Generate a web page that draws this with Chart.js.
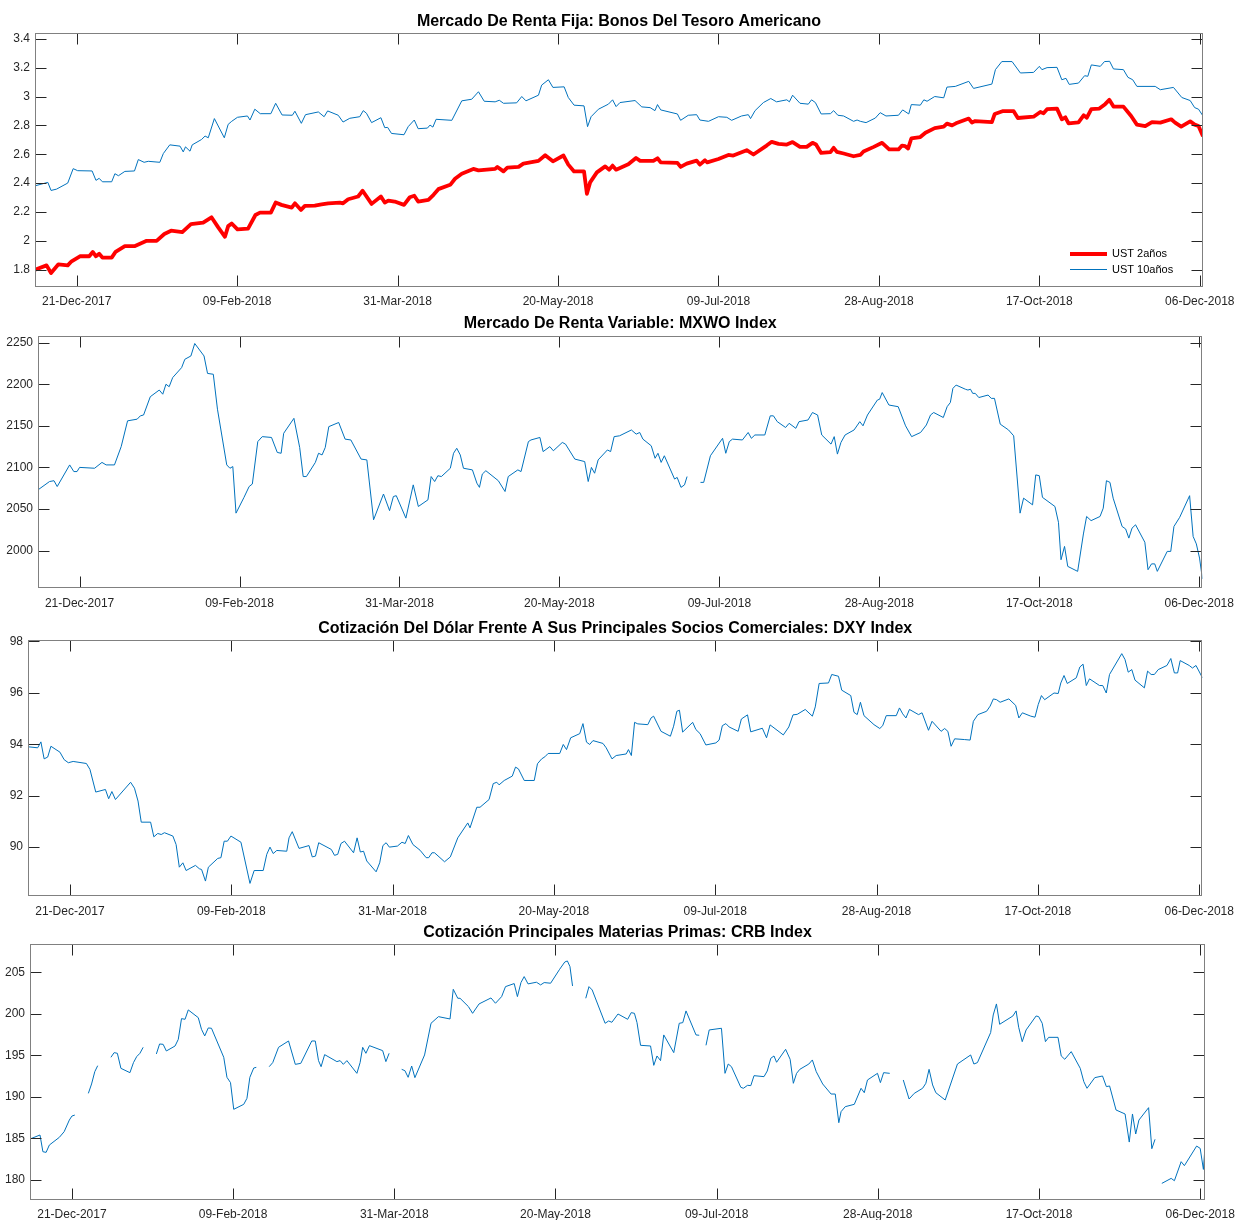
<!DOCTYPE html>
<html>
<head>
<meta charset="utf-8">
<script src="https://cdn.jsdelivr.net/npm/chart.js@4.4.0/dist/chart.umd.min.js"></script>
<style>
  html, body { margin: 0; padding: 0; background: #fff; }
  #page { position: relative; width: 1242px; height: 1220px; overflow: hidden; }
  .panel { position: absolute; left: 0; width: 1242px; }
  canvas { display: block; }
</style>
</head>
<body>
<div id="page">
  <div class="panel" style="top:0px"><canvas id="bondChart" width="1242" height="312"></canvas></div>
  <div class="panel" style="top:312px"><canvas id="mxwoChart" width="1242" height="302"></canvas></div>
  <div class="panel" style="top:614px"><canvas id="dxyChart" width="1242" height="308"></canvas></div>
  <div class="panel" style="top:922px"><canvas id="crbChart" width="1242" height="298"></canvas></div>
</div>
<script>
// x values are calendar days counted from 08-Dec-2017
const xTickDays = [13, 63, 113, 163, 213, 263, 313, 363];
const xTickLabels = ['21-Dec-2017', '09-Feb-2018', '31-Mar-2018', '20-May-2018',
    '09-Jul-2018', '28-Aug-2018', '17-Oct-2018', '06-Dec-2018'];

const bondTicks = [1.8, 2, 2.2, 2.4, 2.6, 2.8, 3, 3.2, 3.4];
const mxwoTicks = [2000, 2050, 2100, 2150, 2200, 2250];
const dxyTicks = [90, 92, 94, 96, 98];
const crbTicks = [180, 185, 190, 195, 200, 205];

// UST 2 años
const ust2Days = [
    0, 3.6, 5, 7.3, 10.2, 11.4, 14, 16.9, 18, 19,
    20, 21, 23.9, 25.1, 28, 31, 34.8, 37.9, 40.3, 42.4,
    45.9, 48.6, 52.4, 55, 57.1, 59.2, 60.2, 61.3, 63.1, 66.4,
    68.7, 70.1, 73.5, 75, 76.8, 80, 81, 82.9, 84.1, 87.2,
    89.3, 91.4, 95, 96, 97.6, 100.7, 102.1, 104.9, 107.8, 109,
    110.1, 112.1, 115, 116.8, 118.2, 119.4,
    122.6, 124.2, 125.7, 129.4, 130.9, 133, 136.6, 138.2, 143.4, 144.1,
    146, 147.2, 150.7, 152.2, 156.9, 159, 161.4, 164.7, 166.2, 168,
    171.1, 172, 173, 175.1, 177.7, 178.9, 180, 181.1, 184.9, 187.3,
    188.6, 192.7, 194, 195, 200.2, 201.2, 203.1, 206.2, 207.2, 208.8,
    209.5, 213, 216.1, 217.6, 220.2, 221.8, 223.9, 228, 229.6, 231.7,
    234.3, 236.1, 238.4, 240.5, 242.3,
    243.4, 245, 247.9, 248.9, 249.9, 252, 255.1, 257.2, 258.2, 261.4,
    264, 266.2, 269.1, 270.2, 271.2, 272.1, 273.1, 275.9, 277.5, 280.4,
    283.2, 284.2, 285.8, 287, 291, 292, 293, 298.2, 299.1, 301.5,
    305, 306.3, 311.2, 313.3, 314.3, 315.4, 318.5, 320, 321.1, 322.1,
    325.2, 326.8, 327.8, 329.2, 331.7, 333.5, 334.8, 336.1, 339.2, 341.6,
    343.4, 346, 348.1, 350.7, 354.1, 355.3, 357.2, 360, 361.4, 362.6,
    364
];
const ust2 = [
    1.800, 1.830, 1.777, 1.837, 1.830, 1.858, 1.893, 1.893, 1.923, 1.893,
    1.910, 1.884, 1.884, 1.923, 1.963, 1.963, 2.000, 2.000, 2.047, 2.070,
    2.060, 2.116, 2.126, 2.163, 2.093, 2.028, 2.102, 2.120, 2.079, 2.084,
    2.179, 2.195, 2.195, 2.265, 2.249, 2.230, 2.260, 2.214, 2.242, 2.244,
    2.253, 2.260, 2.265, 2.260, 2.288, 2.307, 2.347, 2.256, 2.307, 2.265,
    2.279, 2.272, 2.249, 2.302, 2.312, 2.272,
    2.284, 2.319, 2.358, 2.388, 2.430, 2.465, 2.498, 2.488, 2.498, 2.512,
    2.481, 2.507, 2.512, 2.535, 2.554, 2.593, 2.551, 2.591, 2.528, 2.481,
    2.481, 2.326, 2.405, 2.474, 2.516, 2.493, 2.521, 2.493, 2.530, 2.574,
    2.554, 2.554, 2.572, 2.544, 2.540, 2.512, 2.535, 2.556, 2.528, 2.558,
    2.544, 2.567, 2.595, 2.591, 2.614, 2.628, 2.598, 2.660, 2.686, 2.672,
    2.667, 2.684, 2.651, 2.651, 2.679,
    2.667, 2.609, 2.614, 2.644, 2.616, 2.605, 2.586, 2.595, 2.619, 2.651,
    2.679, 2.633, 2.633, 2.660, 2.656, 2.640, 2.709, 2.719, 2.749, 2.781,
    2.791, 2.812, 2.800, 2.814, 2.847, 2.819, 2.830, 2.823, 2.879, 2.898,
    2.898, 2.851, 2.860, 2.893, 2.884, 2.912, 2.916, 2.842, 2.856, 2.814,
    2.821, 2.870, 2.853, 2.912, 2.916, 2.947, 2.977, 2.930, 2.930, 2.865,
    2.805, 2.795, 2.823, 2.819, 2.842, 2.819, 2.791, 2.828, 2.805, 2.795,
    2.724
];

// UST 10 años
const ust10Days = [
    0, 4, 5, 6.7, 10.2, 11.9, 13.3, 17.8, 19, 20,
    21, 23.9, 24.9, 26, 28, 31, 32.2, 34, 35.3, 38.9,
    40, 42, 45.2, 46.2, 46.9, 48.3, 49, 51.9, 53, 54,
    55.9, 59, 60.2, 61.3, 63.1, 66.2, 67, 68.5, 70.2, 73.5,
    75, 77, 80.2, 81, 83, 84.3, 88.3, 90.1, 91.2, 94.5,
    96, 98.1, 101.2, 102.3, 103.3, 104.9, 107.8, 109, 109.9, 111.1,
    115, 116.3, 118.2, 119.4,
    122.3, 123.1, 124, 125, 129.9, 133, 136.1, 138.2, 140, 143.4,
    144.7, 146, 150.1, 151.7, 153, 156.9, 157.9, 160, 161.4, 164.9,
    166.2, 168, 171.1, 172.2, 173.3, 175.6, 178.7, 180, 181.1, 182.3,
    187, 189.1, 191.7, 193.2, 194, 195, 200.2, 201.2, 203.6, 206.2,
    207.2, 209.9, 213, 215.6, 217.1, 220.2, 222.3, 223, 224.4, 227,
    229.3, 231.1, 234.3, 235.1, 236.1, 238.4, 241, 242,
    243.2, 245, 247.9, 248.9, 250.2, 252, 255.1, 256.2, 257.2, 259,
    261.9, 263.4, 265.2, 269.1, 270.4, 272.3, 273.1, 275.9, 277, 278,
    280.4, 283.2, 284.2, 286.8, 291, 292.5, 298.2, 299.3, 301.3, 304.5,
    307.1, 311.2, 313, 313.8, 315.4, 318.5, 320, 321.3, 322.3, 325.2,
    327.1, 328.1, 329.2, 332, 333.3, 334.9, 336.1, 339.2, 340.6, 342.1,
    343.4, 349.1, 350.7, 354.8, 357.4, 360, 361.4, 362.6, 364
];
const ust10 = [
    2.381, 2.405, 2.349, 2.358, 2.400, 2.500, 2.486, 2.484, 2.419, 2.433,
    2.409, 2.409, 2.465, 2.451, 2.481, 2.484, 2.563, 2.544, 2.551, 2.544,
    2.605, 2.665, 2.656, 2.616, 2.651, 2.621, 2.665, 2.702, 2.726, 2.714,
    2.847, 2.714, 2.807, 2.828, 2.856, 2.865, 2.837, 2.912, 2.881, 2.881,
    2.953, 2.872, 2.870, 2.898, 2.814, 2.874, 2.893, 2.860, 2.900, 2.870,
    2.823, 2.849, 2.860, 2.902, 2.884, 2.819, 2.853, 2.784, 2.786, 2.744,
    2.735, 2.791, 2.837, 2.777,
    2.781, 2.802, 2.788, 2.842, 2.835, 2.970, 2.981, 3.033, 2.967, 2.963,
    2.974, 2.953, 2.956, 3.000, 2.970, 3.009, 3.079, 3.116, 3.063, 3.067,
    2.993, 2.940, 2.935, 2.791, 2.860, 2.912, 2.947, 2.977, 2.930, 2.958,
    2.972, 2.928, 2.923, 2.902, 2.944, 2.907, 2.879, 2.835, 2.870, 2.874,
    2.837, 2.828, 2.860, 2.856, 2.835, 2.865, 2.874, 2.847, 2.902, 2.958,
    2.986, 2.963, 2.977, 2.963, 3.009, 2.953, 2.947, 2.977,
    2.958, 2.879, 2.881, 2.902, 2.870, 2.865, 2.828, 2.837, 2.828, 2.819,
    2.851, 2.888, 2.865, 2.870, 2.907, 2.879, 2.944, 2.940, 2.977, 2.967,
    3.000, 2.991, 3.065, 3.070, 3.105, 3.056, 3.086, 3.186, 3.242, 3.242,
    3.163, 3.167, 3.209, 3.186, 3.200, 3.202, 3.116, 3.126, 3.084, 3.093,
    3.144, 3.140, 3.219, 3.209, 3.242, 3.244, 3.191, 3.186, 3.133, 3.116,
    3.070, 3.070, 3.047, 3.063, 2.993, 2.972, 2.923, 2.912, 2.865
];

// MXWO Index (null = no data)
const mxwoDays = [
    0, 3.6, 5, 6, 9.9, 11.2, 12.2, 13, 17.7, 20,
    21.3, 23.9, 26, 28, 31, 32, 33, 35.1, 37.9, 39,
    40, 41, 42.1, 44.9, 45.9, 47.8, 49, 51.9, 53, 54.8,
    56.1, 59, 60, 60.9, 61.9, 64.4, 66, 67, 68.7, 70.1,
    73, 74.8, 76, 76.8, 80, 81.8, 82.9, 83.9, 86.7, 87.7,
    88.8, 89.8, 90.9, 94, 96, 97.8, 101, 102.8, 104.9, 108,
    109.9, 111.1, 112, 115, 117.3, 118.9,
    121.9, 122.9, 124, 125, 126.1, 128.9, 129.9, 130.9, 132, 133,
    135.8, 137.2, 138, 138.9, 140, 143.9, 146, 147, 150, 151,
    153.3, 154.1, 156.9, 157.9, 160, 161.1, 163.9, 164.9, 167.8, 170.9,
    172, 173, 174, 175.1, 178, 179, 180.1, 181.8, 185.5, 187,
    188.1, 189.1, 191.7, 192.9, 193.8, 194.8, 195.8, 199, 199.8, 201,
    202.1, 202.9, 205, 207.1, 208.1, 210.2, 214, 215, 216.1, 217.1,
    220.2, 222, 223, 224.1, 227.2, 228.9, 229.9, 231.1, 233.7, 234.8,
    236.9, 237.9, 240.7,
    242.1, 243.7, 245, 247.9, 248.9, 249.9, 251, 252.3, 255.1, 256.9,
    257.9, 259.3, 262.4, 263.1, 263.9, 266, 268.9, 271.2, 273.1, 275.9,
    277.7, 279, 280, 283, 284.2, 285.2, 286, 287, 289.9, 290.7,
    291.5, 292.2, 293, 294.1, 297, 298, 299, 300.8, 303.4, 305,
    307, 308.1, 310.9, 311.9, 313, 314, 317.9, 319, 319.8, 320.9,
    321.9, 325, 326.8, 327.8, 329.2, 332, 333, 334, 335.1, 336.1,
    338.9, 340, 341, 342, 343.1, 346, 347, 348.1, 349.1, 349.9,
    353, 354.1, 355.1, 356.9, 360, 361.1, 362.1, 363.1, 364
];
const mxwo = [
    2073, 2083, 2084, 2077, 2103, 2095, 2095, 2100, 2099, 2106,
    2103, 2103, 2125, 2156, 2158, 2162, 2163, 2185, 2193, 2188,
    2200, 2197, 2208, 2220, 2230, 2234, 2249, 2234, 2213, 2212,
    2170, 2103, 2099, 2101, 2045, 2064, 2077, 2080, 2131, 2137,
    2136, 2118, 2117, 2141, 2159, 2124, 2089, 2089, 2106, 2117,
    2115, 2124, 2149, 2154, 2134, 2133, 2110, 2109, 2037, 2068,
    2048, 2065, 2066, 2039, 2079, 2053,
    2061, 2089, 2083, 2090, 2089, 2099, 2117, 2123, 2115, 2099,
    2097, 2081, 2076, 2092, 2096, 2084, 2071, 2089, 2097, 2095,
    2131, 2133, 2136, 2119, 2125, 2120, 2130, 2128, 2110, 2107,
    2083, 2100, 2093, 2109, 2121, 2119, 2137, 2138, 2145, 2140,
    2142, 2134, 2126, 2111, 2117, 2106, 2114, 2086, 2088, 2076,
    2079, 2089, null, 2082, 2082, 2114, 2135, 2117, 2131, 2134,
    2133, 2142, 2135, 2139, 2139, 2162, 2162, 2155, 2148, 2153,
    2147, 2155, 2157,
    2166, 2163, 2139, 2128, 2137, 2116, 2130, 2139, 2145, 2155,
    2150, 2163, 2181, 2182, 2190, 2175, 2173, 2150, 2137, 2142,
    2151, 2163, 2166, 2160, 2173, 2178, 2195, 2199, 2194, 2193,
    2194, 2189, 2189, 2184, 2187, 2183, 2183, 2152, 2145, 2138,
    2045, 2063, 2055, 2091, 2090, 2064, 2053, 2034, 1989, 2005,
    1981, 1975, 2020, 2041, 2036, 2041, 2051, 2084, 2082, 2063,
    2029, 2026, 2015, 2027, 2031, 2010, 1977, 1984, 1984, 1975,
    1999, 1999, 2029, 2040, 2066, 2017, 2008, 1991, 1966
];

// DXY Index
const dxyDays = [
    0, 3, 4, 5, 6.1, 7.1, 9.9, 11.2, 12.5, 14,
    18.1, 19.2, 21, 24, 25, 26, 27.1, 31.8, 33, 34.1,
    35.1, 38, 39, 40.2, 41.3, 42.3, 44.9, 45.9, 46.9, 48,
    49, 51.9, 53.1, 53.8, 55, 55.9, 58.8, 59.8, 60.8, 61.8,
    62.9, 66, 68.8, 70.1, 72.9, 74, 75, 76, 77.1, 80.2,
    80.9, 81.9, 84, 87.1, 88.1, 89.1, 90.1, 94, 95, 96,
    97, 98.1, 100.9, 102, 103, 104, 105, 107.9, 109, 110,
    111, 112, 114.5, 115.9, 116.9, 117.9, 119.3, 121.5,
    123.4, 124.2, 125.2, 126, 129.1, 130.9, 133.2, 136.3, 137, 139.1,
    140.1, 142.9, 144.2, 145.3, 146, 147.6, 150.1, 151.1, 152, 153.8,
    156.9, 157.9, 159.2, 160.2, 161.2, 164.8, 165.9, 166.9, 168.2, 171,
    172, 173.1, 174.1, 175.1, 178.2, 179.2, 181, 182.3, 185.4, 186.1,
    187, 188, 189, 192.1, 193.1, 193.9, 196.2, 199.1, 200.1, 201.1,
    201.9, 202.9, 206, 207, 208.3, 210.1, 213.2, 214.2, 215.2, 216.3,
    217.3, 220.1, 221.1, 223, 224, 227.6, 228.9, 230, 234.1, 235.8,
    237.1, 238.4, 240.9,
    243.1, 244, 245.2, 248.1, 249.1, 251.2, 252.2, 255, 256, 257,
    258, 259.1, 262.2, 264, 264.9, 266, 269.1, 270.1, 271.1, 272.1,
    273.2, 276, 277.1, 279.1, 280.2, 283, 284.1, 285.1, 286.1, 287.2,
    290.3, 292, 293, 294.4, 297.1, 298.2, 299.2, 300.2, 301.3, 304,
    306.1, 307.1, 308.2, 310.8, 312.1, 313.1, 314.1, 315.1, 318, 319.3,
    320.1, 321.1, 322.1, 324.9, 326, 327, 328, 329, 332.1, 333.1,
    334.2, 335.2, 339, 340, 341, 342.1, 343.1, 346, 347, 348.1,
    349.1, 350.3, 353, 354.2, 355.3, 356.3, 357.1, 359.9, 360.9, 362,
    364
];
const dxy = [
    93.90, 93.86, 94.09, 93.43, 93.50, 93.92, 93.69, 93.40, 93.28, 93.33,
    93.25, 93.02, 92.14, 92.24, 91.88, 92.16, 91.85, 92.52, 92.29, 91.79,
    90.97, 90.97, 90.40, 90.53, 90.49, 90.56, 90.43, 90.10, 89.22, 89.39,
    89.09, 89.29, 89.16, 89.13, 88.68, 89.22, 89.56, 89.59, 90.23, 90.23,
    90.43, 90.19, 88.59, 89.09, 89.09, 89.72, 90.00, 89.75, 89.87, 89.84,
    90.36, 90.60, 89.95, 90.06, 89.62, 89.65, 90.17, 89.91, 89.68, 89.72,
    90.14, 90.23, 89.78, 90.36, 89.81, 89.84, 89.46, 89.04, 89.39, 90.06,
    90.17, 90.00, 90.04, 90.19, 90.14, 90.45, 90.10, 89.88,
    89.59, 89.59, 89.78, 89.78, 89.43, 89.62, 90.36, 90.94, 90.75, 91.55,
    91.55, 91.85, 92.47, 92.52, 92.42, 92.59, 92.76, 93.11, 93.04, 92.59,
    92.59, 93.24, 93.43, 93.51, 93.64, 93.64, 93.99, 93.79, 94.25, 94.41,
    94.80, 94.08, 93.99, 94.14, 94.03, 93.86, 93.43, 93.56, 93.62, 93.79,
    93.56, 94.85, 94.79, 94.76, 95.02, 95.09, 94.50, 94.31, 94.70, 95.28,
    95.32, 94.47, 94.85, 94.57, 94.41, 93.97, 94.05, 94.16, 94.72, 94.80,
    94.67, 94.50, 94.98, 95.14, 94.48, 94.62, 94.25, 94.75, 94.36, 94.67,
    95.14, 95.16, 95.35,
    95.09, 95.45, 96.36, 96.38, 96.71, 96.64, 96.10, 95.89, 95.24, 95.15,
    95.63, 95.11, 94.76, 94.61, 94.72, 95.11, 95.11, 95.41, 95.18, 95.02,
    95.35, 95.15, 95.22, 94.54, 94.89, 94.50, 94.61, 94.50, 93.92, 94.21,
    94.18, 94.16, 94.89, 95.15, 95.28, 95.48, 95.76, 95.73, 95.63, 95.76,
    95.51, 95.02, 95.22, 95.09, 95.05, 95.54, 95.89, 95.73, 95.99, 95.97,
    96.38, 96.67, 96.36, 96.58, 97.00, 97.11, 96.28, 96.54, 96.28, 96.28,
    95.99, 96.71, 97.52, 97.29, 96.80, 96.90, 96.49, 96.19, 96.84, 96.71,
    96.71, 96.90, 97.06, 97.33, 96.77, 96.77, 97.25, 97.06, 96.96, 97.06,
    96.58
];

// CRB Index (null = no data, the line breaks there)
const crbDays = [
    0, 3.1, 4, 5, 6, 9.1, 10.6, 12.2, 13, 13.9, 16,
    18.1, 19.1, 20.1, 21, 23,
    25.1, 26.1, 27.1, 28.2, 31, 32.1, 33.1, 34.1, 35.1, 37,
    39.2, 40.2, 41.3, 42.3, 45, 46, 47, 48.1, 49.1, 52.2,
    53.2, 54.2, 55.3, 56.3, 60.1, 61.1, 62.2, 63.2, 66.3, 67.3,
    68.2, 69.4, 70.2, 72,
    74.2, 75.3, 77.1, 80.2, 82.3, 84, 87.4, 88.5, 89.5, 90.3,
    91.4, 95.2, 96.2, 97.2, 98.3, 101.4, 102.4, 103.2, 104.2, 105.3,
    109.4, 110.4, 111.4, 113,
    115.3, 116.3, 117.3, 118.4, 119.4, 122.4, 124.4, 126.7, 130.3, 131.3,
    132.7, 133.4, 136, 137.3, 139.3, 143, 144.4, 146.3, 147.5, 150.2,
    151.2, 152.3, 153.3, 154.5, 157.1, 158.4, 159.5, 161.5, 164.3, 165.9,
    166.7, 167.5, 168.3, 170,
    172.4, 173.4, 174.4, 178.4, 179.5, 180.5, 182.4, 185.4, 186.5, 187.5,
    188.3, 189.4, 192.5, 193.5, 194.5, 195.6, 196.6, 199.7, 201.4, 202.5,
    203.5, 206.6, 207.6, 208.6,
    209.7, 210.7, 214.5, 215.6, 216.6, 217.6, 220.5, 221.3, 222.6, 223.6,
    224.6, 227.7, 228.7, 229.8, 230.8, 231.6, 234.4, 235.8, 236.8, 237.8,
    238.8, 241.6, 242.7, 243.9, 245.9, 248.5, 249.8, 250.9, 251.6, 252.9,
    255.7, 257.8, 258.8, 259.8, 262.9, 263.8, 264.8, 266.7, 268.8,
    270.9, 272.7, 274.3, 276.9, 277.9, 278.9, 280, 281, 283.9, 287.7,
    291.8, 292.8, 293.9, 298, 298.8, 299.8, 300.8, 304.9, 305.9, 306.7,
    307.8, 309, 312.1, 312.9, 314, 315, 316, 318.9, 319.9, 321,
    323, 325.8, 326.9, 327.9, 330.3, 332.7, 333.9, 334.9, 336.9, 339.7,
    341, 342, 343, 344, 347, 348, 349, 350,
    351.1, 354, 355, 357.1, 358.1, 361.9, 363, 364, 364.5
];
const crb = [
    184.94, 185.42, 183.41, 183.33, 184.21, 185.14, 185.82, 187.22, 187.70, 187.82, null,
    190.43, 191.56, 193.04, 193.76, null,
    194.77, 195.33, 195.25, 193.44, 192.92, 194.13, 194.85, 195.25, 195.97, null,
    195.17, 196.37, 196.33, 195.53, 196.13, 196.93, 199.42, 199.34, 200.47, 199.54,
    198.14, 197.34, 198.30, 198.26, 194.77, 192.36, 191.72, 188.51, 189.11, 189.83,
    192.36, 193.48, 193.56, null,
    193.64, 194.13, 195.97, 196.73, 193.92, 194.04, 196.73, 196.73, 194.37, 193.64,
    195.09, 194.25, 194.37, 193.92, 194.37, 192.84, 194.13, 195.97, 195.25, 196.17,
    195.57, 194.25, 195.25, null,
    193.32, 193.16, 192.36, 193.72, 192.32, 195.05, 198.86, 199.66, 199.38, 202.95,
    201.87, 201.87, 200.87, 200.06, 201.19, 201.91, 201.27, 202.07, 203.27, 203.64,
    202.07, 203.76, 204.48, 203.60, 203.80, 203.48, 203.76, 203.68, 205.36, 206.24,
    206.36, 205.68, 203.35, null,
    201.87, 203.27, 202.87, 198.86, 199.14, 198.98, 199.98, 199.34, 200.14, 200.06,
    198.94, 196.21, 196.13, 193.80, 194.93, 194.37, 197.46, 195.33, 198.86, 198.94,
    200.35, 197.46, 197.42, null,
    196.21, 198.06, 198.26, 192.84, 193.96, 193.64, 191.16, 191.04, 191.40, 191.36,
    192.56, 192.44, 193.12, 194.65, 194.93, 194.17, 195.73, 194.53, 191.64, 192.84,
    193.32, 193.96, 194.45, 193.04, 191.56, 190.35, 190.35, 186.90, 188.23, 188.83,
    189.11, 191.04, 190.51, 192.04, 192.84, 191.72, 192.92, 192.84, null,
    192.04, 189.75, 190.43, 191.04, 191.64, 193.32, 191.44, 190.51, 189.63, 193.96,
    195.05, 193.96, 194.13, 197.74, 199.86, 201.19, 198.74, 199.74, 200.35, 198.38,
    196.65, 198.06, 199.74, 199.66, 198.86, 196.65, 197.17, 197.17, 194.93, 194.53,
    195.45, 193.44, 191.84, 191.04, 192.32, 192.52, 191.24, 191.32, 188.43, 187.95,
    184.57, 187.95, 185.54, 187.22, 188.71, 183.77, 184.90, null,
    179.60, 180.20, 179.92, 182.21, 181.73, 184.09, 183.81, 181.28, 183.99
];

const BLUE = '#0072BD';
const RED = '#FF0000';
const FONT = '"Liberation Sans", Arial, Helvetica, sans-serif';

function toPoints(days, values) {
    return days.map((d, i) => ({ x: d, y: values[i] }));
}

// box, inward ticks on all four sides, title and (optionally) legend
const matlabAxes = {
    id: 'matlabAxes',
    afterDatasetsDraw(chart, args, opts) {
        const { ctx, chartArea: a, scales } = chart;
        const L = Math.round(a.left) + 0.5;
        const R = Math.round(a.right) - 0.5;
        const T = Math.round(a.top) + 0.5;
        const B = Math.round(a.bottom) - 0.5;
        const tick = 11;

        ctx.save();
        ctx.lineWidth = 1;
        ctx.strokeStyle = '#262626';
        ctx.beginPath();
        xTickDays.forEach(v => {
            const px = Math.round(scales.x.getPixelForValue(v)) + 0.5;
            ctx.moveTo(px, B); ctx.lineTo(px, B - tick);
            ctx.moveTo(px, T); ctx.lineTo(px, T + tick);
        });
        opts.yTicks.forEach(v => {
            const py = Math.round(scales.y.getPixelForValue(v)) + 0.5;
            ctx.moveTo(L, py); ctx.lineTo(L + tick, py);
            ctx.moveTo(R, py); ctx.lineTo(R - tick, py);
        });
        ctx.stroke();

        ctx.strokeStyle = '#808080';
        ctx.strokeRect(L, T, R - L, B - T);

        ctx.fillStyle = '#000';
        ctx.font = 'bold 16px ' + FONT;
        ctx.textAlign = 'center';
        ctx.textBaseline = 'middle';
        ctx.fillText(opts.title, (a.left + a.right) / 2, a.top - opts.titleGap);

        if (opts.legend) {
            ctx.font = '11px ' + FONT;
            ctx.textAlign = 'left';
            const x0 = a.right - 133;
            const x1 = a.right - 96;
            chart.data.datasets.forEach((ds, i) => {
                const y = a.bottom - 33 + i * 15.5;
                ctx.strokeStyle = ds.borderColor;
                ctx.lineWidth = ds.borderWidth;
                ctx.beginPath();
                ctx.moveTo(x0, y); ctx.lineTo(x1, y);
                ctx.stroke();
                ctx.fillStyle = '#000';
                ctx.fillText(ds.label, x1 + 5, y);
            });
        }
        ctx.restore();
    }
};

function makePanel(canvasId, cfg) {
    const ctx = document.getElementById(canvasId).getContext('2d');
    return new Chart(ctx, {
        type: 'line',
        data: { datasets: cfg.datasets },
        options: {
            responsive: false,
            animation: false,
            devicePixelRatio: 1,
            layout: { padding: { top: cfg.padTop, right: cfg.padRight, left: 0, bottom: 0 } },
            elements: { point: { radius: 0 } },
            scales: {
                x: {
                    type: 'linear',
                    min: 0,
                    max: cfg.xMax,
                    grid: { display: false, drawTicks: false },
                    border: { display: false },
                    afterBuildTicks: s => { s.ticks = xTickDays.map(v => ({ value: v })); },
                    afterFit: s => { s.height = cfg.axisBottom; },
                    ticks: {
                        padding: cfg.labelGap,
                        autoSkip: false,
                        maxRotation: 0,
                        color: '#262626',
                        font: { family: FONT, size: 12 },
                        callback: (v, i) => xTickLabels[i]
                    }
                },
                y: {
                    type: 'linear',
                    min: cfg.yMin,
                    max: cfg.yMax,
                    grid: { display: false, drawTicks: false },
                    border: { display: false },
                    afterBuildTicks: s => { s.ticks = cfg.yTicks.map(v => ({ value: v })); },
                    afterFit: s => { s.width = cfg.axisLeft; },
                    ticks: {
                        padding: 5,
                        color: '#262626',
                        font: { family: FONT, size: 12 },
                        callback: v => String(v)
                    }
                }
            },
            plugins: {
                legend: { display: false },
                tooltip: { enabled: false },
                matlabAxes: {
                    title: cfg.title,
                    titleGap: cfg.titleGap,
                    yTicks: cfg.yTicks,
                    legend: !!cfg.legend
                }
            }
        },
        plugins: [matlabAxes]
    });
}

function lineSet(label, days, values, color, width) {
    return {
        label: label,
        data: toPoints(days, values),
        borderColor: color,
        borderWidth: width,
        borderJoinStyle: 'round',
        tension: 0,
        fill: false,
        spanGaps: false
    };
}

makePanel('bondChart', {
    title: 'Mercado De Renta Fija: Bonos Del Tesoro Americano',
    datasets: [
        lineSet('UST 2años', ust2Days, ust2, RED, 3.8),
        lineSet('UST 10años', ust10Days, ust10, BLUE, 1)
    ],
    legend: true,
    yMin: 1.68, yMax: 3.44, yTicks: bondTicks, xMax: 364,
    axisLeft: 35, padRight: 39, padTop: 33, axisBottom: 25,
    titleGap: 11, labelGap: 7
});

makePanel('mxwoChart', {
    title: 'Mercado De Renta Variable: MXWO Index',
    datasets: [lineSet('MXWO Index', mxwoDays, mxwo, BLUE, 1)],
    yMin: 1955, yMax: 2258, yTicks: mxwoTicks, xMax: 364,
    axisLeft: 38, padRight: 36, padTop: 24, axisBottom: 26,
    titleGap: 12, labelGap: 8
});

makePanel('dxyChart', {
    title: 'Cotización Del Dólar Frente A Sus Principales Socios Comerciales: DXY Index',
    datasets: [lineSet('DXY Index', dxyDays, dxy, BLUE, 1)],
    yMin: 88.1, yMax: 98.05, yTicks: dxyTicks, xMax: 364,
    axisLeft: 28, padRight: 35, padTop: 26, axisBottom: 26,
    titleGap: 11, labelGap: 8
});

makePanel('crbChart', {
    title: 'Cotización Principales Materias Primas: CRB Index',
    datasets: [lineSet('CRB Index', crbDays, crb, BLUE, 1)],
    yMin: 177.6, yMax: 208.4, yTicks: crbTicks, xMax: 364.5,
    axisLeft: 30, padRight: 33, padTop: 22, axisBottom: 20,
    titleGap: 11, labelGap: 7
});
</script>
</body>
</html>
